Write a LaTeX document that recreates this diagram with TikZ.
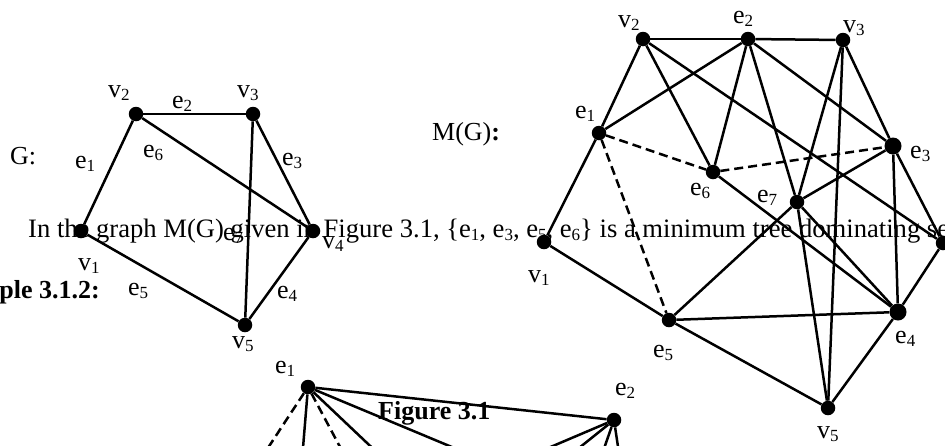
\documentclass[tikz,border=0pt]{standalone}
\usepackage{fontspec}
\setmainfont{Liberation Serif}
\newcommand{\lowidx}[1]{\raisebox{-3pt}{\fontsize{17}{17}\selectfont #1}}
\begin{document}
\begin{tikzpicture}[x=1pt,y=-1pt,
  dot/.style={circle,fill=black,inner sep=0pt,minimum size=14.5pt},
  edge/.style={line width=2.5pt},
  dedge/.style={line width=2.5pt,dash pattern=on 9pt off 5pt},
  lbl/.style={inner sep=0pt,anchor=base west,font=\fontsize{26}{31}\selectfont},
  bold/.style={inner sep=0pt,font=\fontsize{26}{31}\selectfont\bfseries},
]
\useasboundingbox (0,0) rectangle (945,445);
\clip (0,0) rectangle (945,445);

% texts of the page
\node[lbl,font=\fontsize{26.6}{31}\selectfont] (sent) at (28,237) {In the graph M(G) given in Figure 3.1, \{e\lowidx{1}, e\lowidx{3}, e\lowidx{5}, e\lowidx{6}\} is a minimum tree dominating set};
\node[bold,anchor=base east] (ex) at (100,298) {Example 3.1.2:};
\node[bold,anchor=base west] (fig) at (378,419) {Figure 3.1};
\node[lbl] (mg) at (432,140) {M(G){\bfseries :}};
\node[lbl] (g) at (10,164) {G:};

% ---------- graph G ----------
\node[dot] (gv1) at (81,231) {};
\node[dot] (gv2) at (136,114) {};
\node[dot] (gv3) at (253,114) {};
\node[dot] (gv4) at (313,231) {};
\node[dot] (gv5) at (245,325) {};
\draw[edge] (gv1) -- (gv2);
\draw[edge] (gv2) -- (gv3);
\draw[edge] (gv3) -- (gv4);
\draw[edge] (gv4) -- (gv5);
\draw[edge] (gv5) -- (gv1);
\draw[edge] (gv2) -- (gv4);
\draw[edge] (gv3) -- (gv5);
\node[lbl] (lgv2) at (108,97) {v\lowidx{2}};
\node[lbl] (lgv3) at (237,97) {v\lowidx{3}};
\node[lbl] (lge2) at (172,108) {e\lowidx{2}};
\node[lbl] (lge1) at (75,168) {e\lowidx{1}};
\node[lbl] (lge6) at (143,157) {e\lowidx{6}};
\node[lbl] (lge3) at (282,165) {e\lowidx{3}};
\node[lbl] (lgv1) at (78,270) {v\lowidx{1}};
\node[lbl] (lge5) at (128,295) {e\lowidx{5}};
\node[lbl] (lge4) at (277,298) {e\lowidx{4}};
\node[lbl] (lgv5) at (232,348) {v\lowidx{5}};
\node[lbl] (lge7) at (223,240) {e\lowidx{7}};
\node[lbl] (lgv4) at (322,248) {v\lowidx{4}};

% ---------- graph M(G) ----------
\node[dot] (v1) at (544,242) {};
\node[dot] (v2) at (643,39) {};
\node[dot] (e2) at (748,39) {};
\node[dot] (v3) at (843,40) {};
\node[dot] (e1) at (599,133) {};
\node[dot] (e6) at (713,172) {};
\node[dot,minimum width=17pt,minimum height=15pt] (e3) at (893,146) {};
\node[dot] (e7) at (797,202) {};
\node[dot] (v4) at (943,243) {};
\node[dot] (e5) at (669,320) {};
\node[dot,minimum size=17pt] (e4) at (898,312) {};
\node[dot] (v5) at (828,408) {};

\foreach \a/\b in {v1/e1,v1/e5,v2/e1,v2/e2,v2/e6,v2/v4,v3/e2,v3/e3,v3/e7,v3/v5,
  v4/e3,v4/e4,v5/e4,v5/e5,v5/e7,e1/e2,e2/e6,e2/e3,e2/e7,e3/e7,e3/e4,e4/e6,e4/e5,e4/e7,e5/e7}
  \draw[edge] (\a) -- (\b);
\draw[dedge] (e1) -- (e6);
\draw[dedge] (e6) -- (e3);
\draw[dedge] (e1) -- (e5);

\node[lbl] (lv2) at (618,27) {v\lowidx{2}};
\node[lbl] (le2) at (733,23) {e\lowidx{2}};
\node[lbl] (lv3) at (843,32) {v\lowidx{3}};
\node[lbl] (le3) at (910,158) {e\lowidx{3}};
\node[lbl] (le6) at (690,195) {e\lowidx{6}};
\node[lbl] (le7) at (757,202) {e\lowidx{7}};
\node[lbl] (le1) at (575,118) {e\lowidx{1}};
\node[lbl] (lv1) at (528,282) {v\lowidx{1}};
\node[lbl] (le5) at (653,357) {e\lowidx{5}};
\node[lbl] (le4) at (895,343) {e\lowidx{4}};
\node[lbl] (lv5) at (817,438) {v\lowidx{5}};

% ---------- bottom graph ----------
\node[dot] (b1) at (308,387) {};
\node[dot] (b2) at (614,420) {};
\coordinate (c1) at (260,460);
\coordinate (c2) at (302,460);
\coordinate (c3) at (347,460);
\coordinate (c4) at (385,460);
\coordinate (c5) at (483,460);
\coordinate (d1) at (520,460);
\coordinate (d2) at (564,460);
\coordinate (d3) at (600,460);
\coordinate (d4) at (620,460);
\draw[edge] (b1) -- (b2);
\draw[dedge] (b1) -- (c1);
\draw[edge] (b1) -- (c2);
\draw[dedge] (b1) -- (c3);
\draw[edge] (b1) -- (c4);
\draw[edge] (b1) -- (c5);
\draw[edge] (b2) -- (d1);
\draw[edge] (b2) -- (d2);
\draw[edge] (b2) -- (d3);
\draw[edge] (b2) -- (d4);
\node[lbl] (lb1) at (275,373) {e\lowidx{1}};
\node[lbl] (lb2) at (615,395) {e\lowidx{2}};
\end{tikzpicture}
\end{document}
